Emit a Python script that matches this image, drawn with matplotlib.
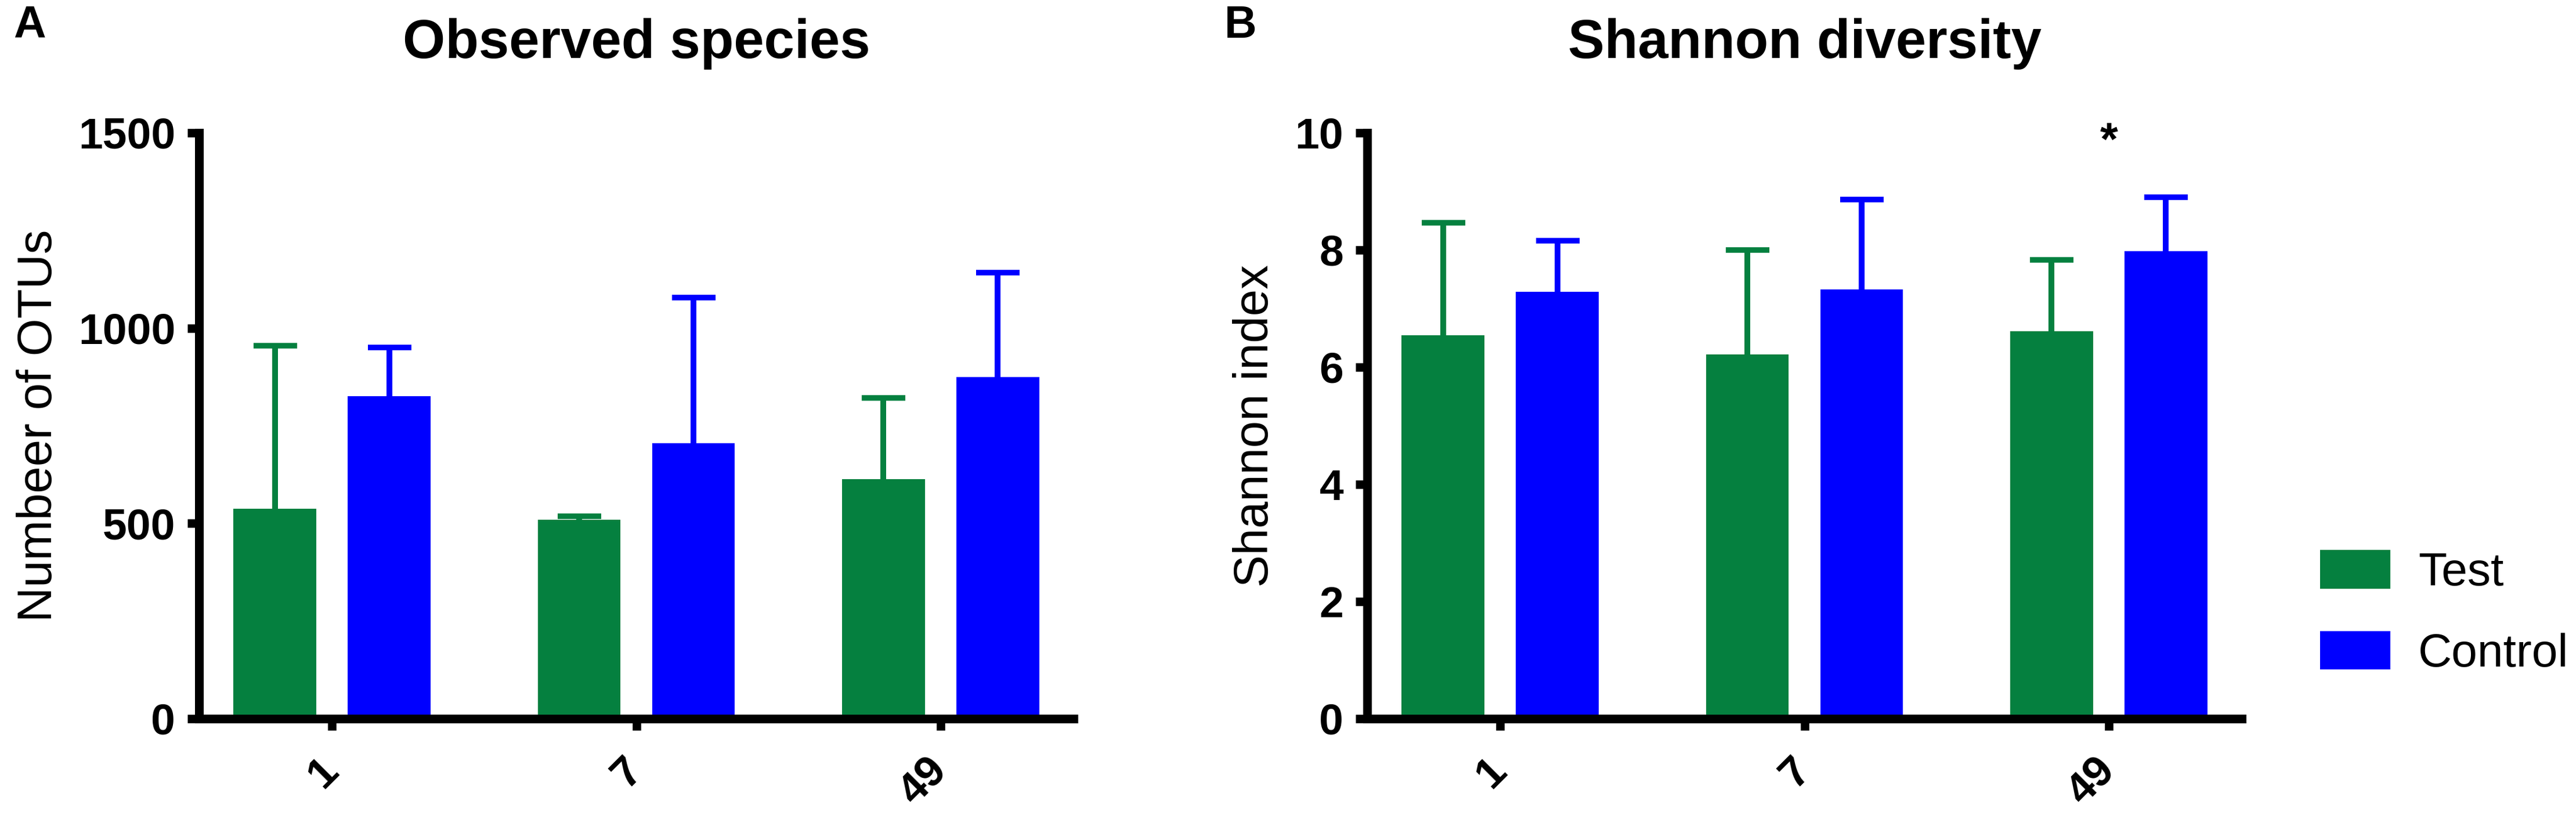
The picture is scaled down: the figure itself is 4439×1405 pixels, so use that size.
import numpy as np
import matplotlib.pyplot as plt

plt.rcParams['font.family'] = ['Liberation Sans', 'DejaVu Sans']

#--------------------------------------------------------------------------------------------------
# Data
days = ['1', '7', '49']
groups = ['Test', 'Control']

# Observed species (number of OTUs), mean and upper error
otu_test = [537, 510, 613]
otu_test_err = [418, 8, 209]
otu_control = [826, 705, 875]
otu_control_err = [125, 373, 267]

# Shannon diversity
shannon_test = [6.54, 6.22, 6.61]
shannon_test_err = [1.93, 1.78, 1.22]
shannon_control = [7.29, 7.33, 7.98]
shannon_control_err = [0.87, 1.53, 0.92]

green = '#05803F'
blue = '#0000FF'

#--------------------------------------------------------------------------------------------------
# Plot Setups
W, H, DPI = 4439, 1405, 300
fig = plt.figure(figsize=(W / DPI, H / DPI), dpi=DPI)

ax1 = fig.add_axes([343 / W, 1 - 1239 / H, 1507 / W, 1010 / H])
ax2 = fig.add_axes([2356 / W, 1 - 1239 / H, 1507 / W, 1010 / H])

bar_w = 0.272
offset = 0.188


def draw_panel(ax, test, test_err, ctrl, ctrl_err, ymax, yticks, ylabel, title):
    x = np.arange(len(days))
    handles = []
    for xs, vals, errs, col, lab in [(x - offset, test, test_err, green, groups[0]),
                                     (x + offset, ctrl, ctrl_err, blue, groups[1])]:
        b = ax.bar(xs, vals, bar_w, color=col, label=lab, zorder=2)
        handles.append(b)
        _, caps, _ = ax.errorbar(xs, vals, yerr=[np.zeros(len(vals)), errs], fmt='none',
                                 ecolor=col, elinewidth=2.4, capsize=9, capthick=2.3,
                                 zorder=1.5)
        caps[0].set_visible(False)  # only upper caps

    ax.set_xlim(-0.437, 2.437)
    ax.set_ylim(0, ymax)
    ax.set_yticks(yticks)
    ax.set_xticks(x)
    ax.set_xticklabels(days)

    for s in ['top', 'right']:
        ax.spines[s].set_visible(False)
    for s in ['left', 'bottom']:
        ax.spines[s].set_linewidth(3.6)

    ax.tick_params(axis='both', width=3.5, length=4.8, labelsize=18)
    ax.tick_params(axis='y', pad=5)
    ax.tick_params(axis='x', pad=14)
    for lbl in ax.get_yticklabels():
        lbl.set_fontweight('bold')
    for lbl in ax.get_xticklabels():
        lbl.set_fontweight('bold')
        lbl.set_rotation(45)
        lbl.set_ha('right')
        lbl.set_va('center')
        lbl.set_rotation_mode('anchor')

    ax.set_ylabel(ylabel, fontsize=20, labelpad=7)
    ax.set_title(title, fontsize=22.6, fontweight='bold', pad=31)
    return handles


draw_panel(ax1, otu_test, otu_test_err, otu_control, otu_control_err,
           1500, [0, 500, 1000, 1500], 'Numbeer of OTUs', 'Observed species')
handles = draw_panel(ax2, shannon_test, shannon_test_err, shannon_control, shannon_control_err,
                     10, [0, 2, 4, 6, 8, 10], 'Shannon index', 'Shannon diversity')

# significance mark on day 49
ax2.text(2, 9.83, '*', ha='center', va='center', fontsize=19, fontweight='bold', clip_on=False)

# panel letters
fig.text(23 / W, 1 - 8 / H, 'A', ha='left', va='top', fontsize=18.5, fontweight='bold')
fig.text(2110 / W, 1 - 8 / H, 'B', ha='left', va='top', fontsize=18.5, fontweight='bold')

fig.legend(handles, groups, loc='center left', bbox_to_anchor=(3998 / W, 1 - 1057 / H),
           frameon=False, fontsize=19.3, handlelength=1.5, handleheight=0.9,
           handletextpad=0.6, labelspacing=0.76, borderpad=0, borderaxespad=0)

fig.savefig('out.png', dpi=DPI)
